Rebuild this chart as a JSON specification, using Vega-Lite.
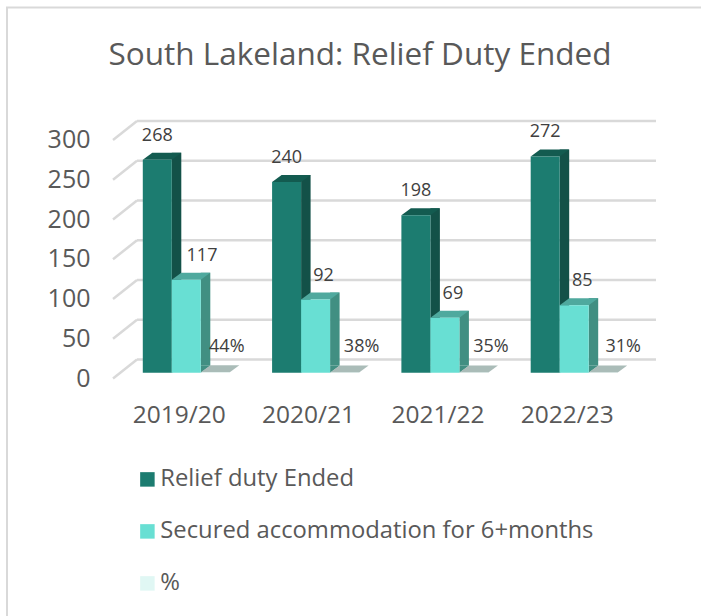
{
"$schema":"https://vega.github.io/schema/vega-lite/v6.json",
"width":696,"height":611,
"autosize":{"type":"none"},
"padding":{"left":7,"top":7.5,"right":0,"bottom":0},
"background":"white",
"config":{"font":"Open Sans","view":{"stroke":"#d9d9d9","strokeWidth":2}},
"title":{"text":"South Lakeland: Relief Duty Ended","fontSize":31.5,"fontWeight":"normal","color":"#595959","anchor":"middle","frame":"group","dx":5,"offset":-64},
"datasets":{
"bars":[
{"year":"2019/20","series":"Relief duty Ended","value":268},
{"year":"2020/21","series":"Relief duty Ended","value":240},
{"year":"2021/22","series":"Relief duty Ended","value":198},
{"year":"2022/23","series":"Relief duty Ended","value":272},
{"year":"2019/20","series":"Secured accommodation for 6+months","value":117},
{"year":"2020/21","series":"Secured accommodation for 6+months","value":92},
{"year":"2021/22","series":"Secured accommodation for 6+months","value":69},
{"year":"2022/23","series":"Secured accommodation for 6+months","value":85},
{"year":"2019/20","series":"%","value":0.44},
{"year":"2020/21","series":"%","value":0.38},
{"year":"2021/22","series":"%","value":0.35},
{"year":"2022/23","series":"%","value":0.31}
],
"ticks":[{"tick":0},{"tick":50},{"tick":100},{"tick":150},{"tick":200},{"tick":250},{"tick":300}]
},
"encoding":{
"x":{"field":"year","type":"nominal","sort":null,"title":null,
 "scale":{"domain":["2019/20","2020/21","2021/22","2022/23"],"range":[114.65,631.85],"paddingInner":0.327,"paddingOuter":0.1635},
 "axis":{"domain":false,"ticks":false,"labelAngle":0,"labelFontSize":24.5,"labelColor":"#595959","labelOffset":-7,"offset":-215,"labelPadding":0,"grid":false}},
"y":{"field":"value","type":"quantitative","title":null,"stack":null,
 "scale":{"domain":[0,300],"range":[365.2,126.7],"nice":false},
 "axis":{"domain":false,"ticks":false,"values":[0,50,100,150,200,250,300],"labelFontSize":25,"labelColor":"#595959","offset":-83,"labelPadding":0,"labelOffset":5.5,"grid":false}}
},
"layer":[
{"data":{"name":"ticks"},"mark":{"type":"rule","stroke":"#d9d9d9","strokeWidth":2.5,"yOffset":-13.2,"xOffset":-49.3,"x2Offset":81.8},
 "encoding":{"x":{"datum":"2019/20"},"x2":{"datum":"2022/23"},"y":{"field":"tick","type":"quantitative","title":null}}},
{"data":{"name":"ticks"},"mark":{"type":"point","shape":"M0 0L-24 19","size":4,"filled":false,"stroke":"#d9d9d9","strokeWidth":2.5,"opacity":1,"xOffset":-49.3,"yOffset":-13.2},
 "encoding":{"x":{"datum":"2019/20"},"y":{"field":"tick","type":"quantitative","title":null}}},
{"data":{"name":"bars"},"transform":[{"filter":"datum.series === 'Relief duty Ended'"}],
 "mark":{"type":"bar","width":9.5,"xOffset":-9.75,"yOffset":-7,"y2Offset":-7,"color":"#135148"},
 "encoding":{"y2":{"datum":0}}},
{"data":{"name":"bars"},"transform":[{"filter":"datum.series === 'Secured accommodation for 6+months'"}],
 "mark":{"type":"bar","width":9.5,"xOffset":19.25,"yOffset":-7,"y2Offset":-7,"color":"#418f82"},
 "encoding":{"y2":{"datum":0}}},
{"data":{"name":"bars"},"transform":[{"filter":"datum.series !== '%'"}],
 "mark":{"type":"point","shape":"M14.5 0L24 -7L14.5 -7Z","size":4,"filled":true,"opacity":1},
 "encoding":{
  "xOffset":{"field":"series","type":"nominal","scale":{"domain":["Relief duty Ended","Secured accommodation for 6+months","%"],"padding":0}},
  "y":{"datum":0},
  "color":{"condition":{"test":"datum.series === 'Relief duty Ended'","value":"#135148"},"value":"#418f82"}}},
{"data":{"name":"bars"},
 "mark":{"type":"point","shape":"M-14.5 0L14.5 0L24 -7L-5 -7Z","size":4,"filled":true,"opacity":1},
 "encoding":{
  "xOffset":{"field":"series","type":"nominal"},
  "color":{"condition":[{"test":"datum.series === 'Relief duty Ended'","value":"#135b50"},{"test":"datum.series === '%'","value":"#aabcb8"}],"value":"#4fa99e"}}},
{"data":{"name":"bars"},
 "mark":{"type":"bar","width":29},
 "encoding":{
  "xOffset":{"field":"series","type":"nominal"},
  "y2":{"datum":0},
  "color":{"field":"series","type":"nominal",
   "scale":{"domain":["Relief duty Ended","Secured accommodation for 6+months","%"],"range":["#1c7c70","#68dfd3","#e0f7f4"]},
   "legend":{"orient":"none","legendX":128.5,"legendY":460,"title":null,"symbolType":"square","symbolSize":210,"symbolStrokeWidth":0,"labelFontSize":23.8,"labelOffset":1,"labelColor":"#595959","rowPadding":27,"labelLimit":500,"symbolOpacity":1}}}},
{"data":{"name":"bars"},
 "layer":[
 {"transform":[{"filter":"datum.series === 'Relief duty Ended'"}],"mark":{"type":"text","fontSize":18,"color":"#404040","dy":-24}},
 {"transform":[{"filter":"datum.value === 92 || datum.value === 85 || datum.value === 69"}],"mark":{"type":"text","fontSize":18,"color":"#404040","dy":-24,"dx":8}},
 {"transform":[{"filter":"datum.value === 117"}],"mark":{"type":"text","fontSize":18,"color":"#404040","dy":-24,"dx":15.7}}
 ],
 "encoding":{"xOffset":{"field":"series","type":"nominal"},"text":{"field":"value","type":"quantitative","format":"d"}}},
{"data":{"name":"bars"},
 "layer":[
 {"transform":[{"filter":"datum.value === 0.38 || datum.value === 0.35"}],"mark":{"type":"text","fontSize":18,"color":"#404040","dy":-25,"dx":17}},
 {"transform":[{"filter":"datum.value === 0.44"}],"mark":{"type":"text","fontSize":18,"color":"#404040","dy":-25,"dx":11.5}},
 {"transform":[{"filter":"datum.value === 0.31"}],"mark":{"type":"text","fontSize":18,"color":"#404040","dy":-25,"dx":20}}
 ],
 "encoding":{"xOffset":{"field":"series","type":"nominal"},"text":{"field":"value","type":"quantitative","format":".0%"}}}
]
}
